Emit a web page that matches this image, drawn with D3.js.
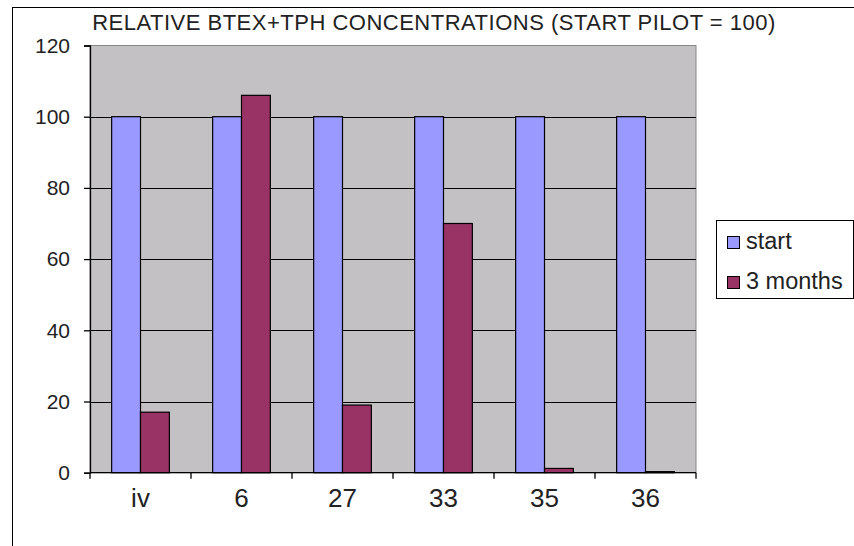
<!DOCTYPE html>
<html>
<head>
<meta charset="utf-8">
<script src="https://cdn.jsdelivr.net/npm/d3@7"></script>
<style>
  html, body { margin: 0; padding: 0; background: #fff; }
  svg { display: block; font-family: Arial, "Liberation Sans", sans-serif; }
</style>
</head>
<body>
<svg id="chart" width="854" height="546"></svg>
<script>
// Wells sampled and relative concentrations (start of pilot = 100)
const categories = ["iv", "6", "27", "33", "35", "36"];
const seriesNames = ["start", "3 months"];
const startValues = [100, 100, 100, 100, 100, 100];
const monthValues = [17, 106, 19, 70, 1.2, 0.3];
const yTicks = [0, 20, 40, 60, 80, 100, 120];
const titleText = "RELATIVE BTEX+TPH CONCENTRATIONS (START PILOT = 100)";

const colors = ["#9999ff", "#993366"];
const svg = d3.select("#chart");

// outer chart frame
svg.append("rect")
  .attr("x", 12.5).attr("y", 7.5)
  .attr("width", 860).attr("height", 560)
  .attr("fill", "#fff").attr("stroke", "#000").attr("stroke-width", 1);

const plot = { left: 90, top: 45.5, right: 696, bottom: 472.7 };

const x = d3.scaleBand().domain(categories).range([plot.left, plot.right]);
const inner = d3.scaleBand().domain(seriesNames)
  .range([0, x.bandwidth()]).paddingOuter(0.75).paddingInner(0);
const y = d3.scaleLinear().domain([0, 120]).range([plot.bottom, plot.top]);

// plot area background
svg.append("rect")
  .attr("x", plot.left).attr("y", plot.top)
  .attr("width", plot.right - plot.left).attr("height", plot.bottom - plot.top)
  .attr("fill", "#c4c1c4").attr("stroke", "#888").attr("stroke-width", 1);

// horizontal gridlines
svg.append("g").selectAll("line")
  .data(yTicks.filter(d => d > 0 && d < 120))
  .join("line")
  .attr("x1", plot.left).attr("x2", plot.right)
  .attr("y1", d => Math.round(y(d)) + 0.5).attr("y2", d => Math.round(y(d)) + 0.5)
  .attr("stroke", "#000").attr("stroke-width", 1.2);

// bars
const series = [startValues, monthValues];
series.forEach((vals, si) => {
  svg.append("g").selectAll("rect")
    .data(categories.map((c, i) => ({ c, v: vals[i] })))
    .join("rect")
    .attr("x", d => x(d.c) + inner(seriesNames[si]))
    .attr("y", d => y(d.v))
    .attr("width", inner.bandwidth())
    .attr("height", d => plot.bottom - y(d.v))
    .attr("fill", colors[si])
    .attr("stroke", "#000").attr("stroke-width", 1.2);
});

// y axis
const yAxis = d3.axisLeft(y).tickValues(yTicks).tickSize(6).tickPadding(14);
const gy = svg.append("g").attr("transform", `translate(${plot.left},0)`).call(yAxis);
gy.select(".domain").attr("stroke", "#000").attr("stroke-width", 1.3);
gy.selectAll(".tick line").attr("stroke", "#000").attr("stroke-width", 1.3);
gy.selectAll(".tick text").attr("font-size", 21).attr("fill", "#222")
  .attr("font-family", "Arial, 'Liberation Sans', sans-serif");

// x axis with ticks at band boundaries
svg.append("line")
  .attr("x1", plot.left).attr("x2", plot.right)
  .attr("y1", plot.bottom).attr("y2", plot.bottom)
  .attr("stroke", "#000").attr("stroke-width", 1.3);
const bounds = categories.map(c => x(c)).concat([plot.right]);
svg.append("g").selectAll("line").data(bounds).join("line")
  .attr("x1", d => d).attr("x2", d => d)
  .attr("y1", plot.bottom).attr("y2", plot.bottom + 6)
  .attr("stroke", "#000").attr("stroke-width", 1.3);
svg.append("g").selectAll("text").data(categories).join("text")
  .attr("x", d => x(d) + x.bandwidth() / 2)
  .attr("y", plot.bottom + 34.5)
  .attr("text-anchor", "middle")
  .attr("font-size", 26).attr("fill", "#222")
  .text(d => d);

// title
svg.append("text")
  .attr("x", 434).attr("y", 30)
  .attr("text-anchor", "middle")
  .attr("font-size", 22).attr("letter-spacing", 0.5).attr("fill", "#222")
  .text(titleText);

// legend
const lg = svg.append("g");
lg.append("rect")
  .attr("x", 716.5).attr("y", 220.5).attr("width", 137).attr("height", 78)
  .attr("fill", "#fff").attr("stroke", "#000").attr("stroke-width", 1);
seriesNames.forEach((name, i) => {
  const cy = 242.5 + i * 40;
  lg.append("rect")
    .attr("x", 727.5).attr("y", cy - 6).attr("width", 12).attr("height", 12)
    .attr("fill", colors[i]).attr("stroke", "#000").attr("stroke-width", 1);
  lg.append("text")
    .attr("x", 746).attr("y", cy + 6)
    .attr("font-size", 23.5).attr("fill", "#222")
    .text(name);
});
</script>
</body>
</html>
